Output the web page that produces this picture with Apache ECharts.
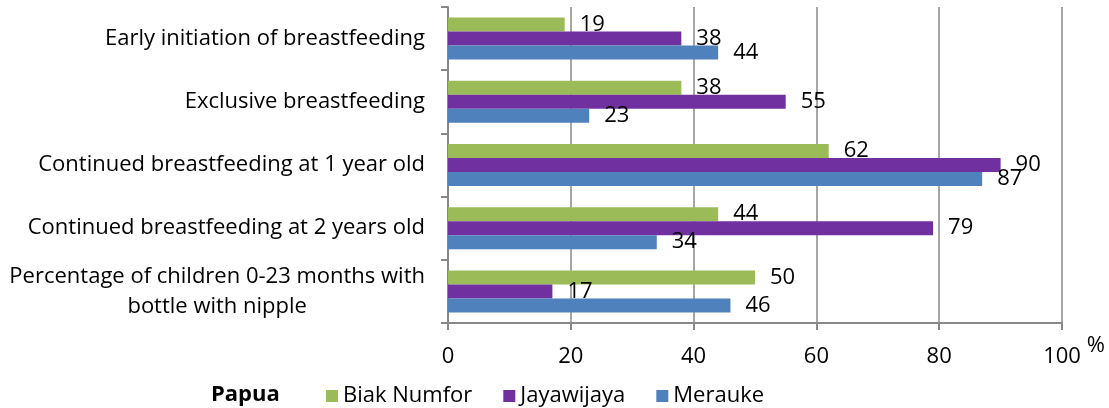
<!DOCTYPE html>
<html>
<head>
<meta charset="utf-8">
<script src="https://cdn.jsdelivr.net/npm/echarts@6/dist/echarts.min.js"></script>
<style>
  html, body { margin: 0; padding: 0; background: #fff; }
  #chart { width: 1109px; height: 408px; }
</style>
</head>
<body>
<div id="chart"></div>
<script>
const categories = [
  'Early initiation of breastfeeding',
  'Exclusive breastfeeding',
  'Continued breastfeeding at 1 year old',
  'Continued breastfeeding at 2 years old',
  'Percentage of children 0-23 months with\nbottle with nipple',
]
const seriesNames = ['Biak Numfor', 'Jayawijaya', 'Merauke']
const biakNumfor = [19, 38, 62, 44, 50]
const jayawijaya = [38, 55, 90, 79, 17]
const merauke = [44, 23, 87, 34, 46]
const xTicks = [0, 20, 40, 60, 80, 100]

const colors = ['#9bbb59', '#7030a0', '#4f81bd']
const FONT = '"Open Sans", sans-serif'
const FS = 22

const chart = echarts.init(document.getElementById('chart'))

function makeSeries(name, data, color) {
  return {
    name,
    type: 'bar',
    data,
    barWidth: 14,
    barGap: '0%',
    itemStyle: { color },
    label: {
      show: true,
      position: 'right',
      distance: 15,
      color: '#000',
      fontFamily: FONT,
      fontSize: FS,
    },
  }
}

chart.setOption({
  animation: false,
  textStyle: { fontFamily: FONT },
  title: {
    text: 'Papua',
    left: 211,
    top: 384,
    padding: 0,
    textStyle: { fontFamily: FONT, fontSize: FS, fontWeight: 'bold', color: '#000' },
  },
  legend: {
    left: 326,
    top: 385,
    padding: 0,
    itemWidth: 12,
    itemHeight: 12,
    itemGap: 31,
    icon: 'rect',
    data: seriesNames,
    textStyle: { fontFamily: FONT, fontSize: FS, color: '#000' },
  },
  grid: { left: 448, right: 47, top: 7, bottom: 85, containLabel: false },
  xAxis: {
    type: 'value',
    min: xTicks[0],
    max: xTicks[xTicks.length - 1],
    interval: 20,
    name: '%',
    nameLocation: 'end',
    nameGap: 22,
    nameTextStyle: { fontFamily: FONT, fontSize: FS, color: '#000', verticalAlign: 'top', padding: [12, 0, 0, 0] },
    axisLine: { show: true, lineStyle: { color: '#888', width: 2 } },
    axisTick: { show: true, length: 7, lineStyle: { color: '#888', width: 2 } },
    axisLabel: { margin: 23, color: '#000', fontFamily: FONT, fontSize: FS },
    splitLine: { show: true, lineStyle: { color: '#888', width: 1.5 } },
  },
  yAxis: {
    type: 'category',
    inverse: true,
    data: categories,
    axisLine: { show: true, lineStyle: { color: '#888', width: 2 } },
    axisTick: { show: true, length: 7, lineStyle: { color: '#888', width: 2 } },
    axisLabel: {
      margin: 23,
      color: '#000',
      fontFamily: FONT,
      fontSize: FS,
      lineHeight: 30,
      formatter: (v) => {
        if (v.indexOf('\n') < 0) return v
        return v.split('\n').map(s => '{c|' + s + '}').join('\n')
      },
      rich: {
        c: { align: 'center', fontFamily: FONT, fontSize: FS, lineHeight: 30, color: '#000' },
      },
    },
  },
  series: [
    makeSeries(seriesNames[0], biakNumfor, colors[0]),
    makeSeries(seriesNames[1], jayawijaya, colors[1]),
    makeSeries(seriesNames[2], merauke, colors[2]),
  ],
})
</script>
</body>
</html>
